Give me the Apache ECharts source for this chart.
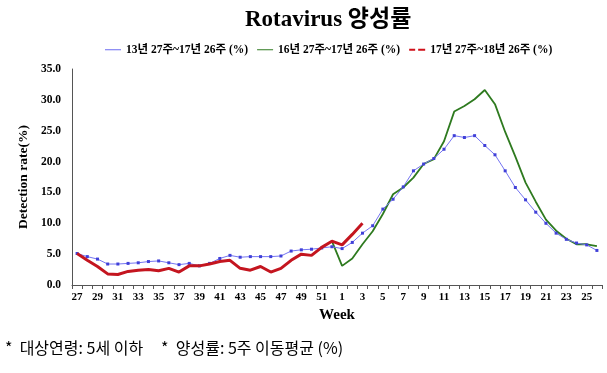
<!DOCTYPE html>
<html>
<head>
<meta charset="utf-8">
<script src="https://cdn.jsdelivr.net/npm/echarts@6/dist/echarts.min.js"></script>
<style>
html,body{margin:0;padding:0;background:#fff;}
#c{width:607px;height:373px;}
</style>
</head>
<body>
<div id="c"></div>
<script>
var weeks = ['27','28','29','30','31','32','33','34','35','36','37','38','39','40','41','42','43','44','45','46','47','48','49','50','51','52',
             '1','2','3','4','5','6','7','8','9','10','11','12','13','14','15','16','17','18','19','20','21','22','23','24','25','26'];
var yTicks = ['0.0','5.0','10.0','15.0','20.0','25.0','30.0','35.0'];
var seriesNames = ['13년 27주~17년 26주 (%)','16년 27주~17년 26주 (%)','17년 27주~18년 26주 (%)'];
var avg13to17 = [5.1,4.6,4.2,3.4,3.4,3.5,3.6,3.8,3.9,3.6,3.3,3.5,3.1,3.5,4.3,4.8,4.5,4.6,4.6,4.6,4.7,5.5,5.7,5.8,6.0,6.2,
                 5.9,6.9,8.4,9.6,12.3,13.9,15.9,18.5,19.6,20.5,22.0,24.2,23.9,24.2,22.6,21.1,18.5,15.8,13.8,11.8,10.0,8.4,7.4,6.8,6.5,5.6];
var season1617 = [null,null,null,null,null,null,null,null,null,null,null,null,null,null,null,null,null,null,null,null,null,null,null,null,null,7.1,
                  3.1,4.3,6.6,8.7,11.5,14.7,15.8,17.4,19.6,20.4,23.3,28.1,29.0,30.1,31.6,29.3,24.8,20.8,16.6,13.5,10.6,8.8,7.5,6.6,6.6,6.3];
var season1718 = [5.1,4.0,3.0,1.8,1.7,2.2,2.4,2.5,2.3,2.7,2.1,3.1,3.1,3.4,3.8,4.0,2.7,2.4,3.0,2.1,2.7,4.0,5.0,4.8,6.1,7.1,
                  6.5,8.2,10.0,null,null,null,null,null,null,null,null,null,null,null,null,null,null,null,null,null,null,null,null,null,null,null];

var serif = "'Liberation Serif','Times New Roman','Noto Sans CJK KR',serif";
var chart = echarts.init(document.getElementById('c'));
chart.setOption({
  animation:false,
  backgroundColor:'#fff',
  title:{
    text:'Rotavirus 양성률',
    left:240, top:4,
    textStyle:{fontFamily:serif, fontSize:23, fontWeight:'bold', color:'#000'}
  },
  legend:{
    top:39, left:100,
    itemWidth:16, itemHeight:8, itemGap:9,
    textStyle:{fontFamily:serif, fontSize:11.5, fontWeight:'bold', color:'#000'},
    data:[
      {name:seriesNames[0], icon:'path://M0,4L16,4L16,5L0,5Z', itemStyle:{color:'#6b6bf0'}},
      {name:seriesNames[1], icon:'path://M0,4L16,4L16,5L0,5Z', itemStyle:{color:'#2e7a1f'}},
      {name:seriesNames[2], icon:'path://M0,3.5L6,3.5L6,5.5L0,5.5ZM9,3.5L16,3.5L16,5.5L9,5.5Z', itemStyle:{color:'#d0101a'}}
    ]
  },
  grid:{left:72, right:5, top:69, bottom:88, containLabel:false},
  xAxis:{
    type:'category',
    data:weeks,
    boundaryGap:true,
    name:'Week', nameLocation:'middle', nameGap:22,
    nameTextStyle:{fontFamily:serif, fontSize:15, fontWeight:'bold', color:'#000'},
    axisLine:{lineStyle:{color:'#555', width:1}},
    axisTick:{show:true, alignWithLabel:false, interval:0, length:4, lineStyle:{color:'#555'}},
    axisLabel:{interval:1, fontFamily:serif, fontSize:11, fontWeight:'bold', color:'#000', margin:7},
    splitLine:{show:false}
  },
  yAxis:{
    type:'value', min:0, max:35, interval:5,
    name:'Detection rate(%)', nameLocation:'middle', nameGap:41, nameRotate:90,
    nameTextStyle:{fontFamily:serif, fontSize:13.5, fontWeight:'bold', color:'#000'},
    axisLine:{show:true, lineStyle:{color:'#555', width:1}},
    axisTick:{show:false},
    axisLabel:{fontFamily:serif, fontSize:11.5, fontWeight:'bold', color:'#000', margin:11,
      formatter:function(v){ return yTicks[Math.round(v/5)] || v.toFixed(1); }},
    splitLine:{show:false}
  },
  series:[
    {name:seriesNames[0], type:'line', data:avg13to17, symbol:'rect', symbolSize:3, showSymbol:true,
     lineStyle:{color:'#7575f2', width:1}, itemStyle:{color:'#4040d8'}, z:3},
    {name:seriesNames[1], type:'line', data:season1617, symbol:'none', connectNulls:false,
     lineStyle:{color:'#2e7a1f', width:1.8}, itemStyle:{color:'#2e7a1f'}, z:2},
    {name:seriesNames[2], type:'line', data:season1718, symbol:'none',
     lineStyle:{color:'#c4151f', width:3}, itemStyle:{color:'#d0101a'}, z:4}
  ],
  graphic:[
    {type:'text', left:5, top:340,
     style:{text:'*  대상연령: 5세 이하     *  양성률: 5주 이동평균 (%)', fill:'#000',
            font:"16px 'Noto Sans CJK KR', sans-serif"}}
  ]
});
</script>
</body>
</html>
